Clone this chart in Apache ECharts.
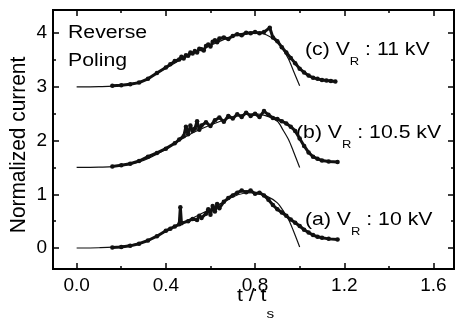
<!DOCTYPE html>
<html>
<head>
<meta charset="utf-8">
<script src="https://cdn.jsdelivr.net/npm/echarts@6/dist/echarts.min.js"></script>
<style>
  html, body { margin: 0; padding: 0; background: #fff; }
  #chart { width: 456px; height: 324px; }
</style>
</head>
<body>
<div id="chart"></div>
<script>
// axis ranges / ticks
var X_MIN = -0.106, X_MAX = 1.692
var Y_MIN = -0.391, Y_MAX = 4.432
var xMajor = [0, 0.4, 0.8, 1.2, 1.6]
var xMinor = [0.2, 0.6, 1.0, 1.4]
var yMajor = [0, 1, 2, 3, 4]
var yMinor = [0.5, 1.5, 2.5, 3.5]

// (a) V_R : 10 kV  measured
var tA = [0.16, 0.20, 0.24, 0.28, 0.32, 0.36, 0.40, 0.42, 0.44, 0.46, 0.465, 0.47, 0.50, 0.52, 0.54, 0.55, 0.56, 0.58, 0.59, 0.60, 0.61, 0.62, 0.63, 0.64, 0.66, 0.68, 0.70, 0.72, 0.74, 0.76, 0.78, 0.80, 0.82, 0.84, 0.86, 0.88, 0.90, 0.92, 0.94, 0.96, 0.98, 1.00, 1.02, 1.04, 1.06, 1.08, 1.10, 1.13, 1.17]
var vA = [0.01, 0.02, 0.04, 0.08, 0.14, 0.22, 0.32, 0.36, 0.40, 0.44, 0.76, 0.46, 0.50, 0.54, 0.52, 0.60, 0.56, 0.64, 0.72, 0.62, 0.78, 0.68, 0.82, 0.74, 0.86, 0.93, 0.98, 1.03, 1.07, 1.04, 1.07, 1.01, 1.03, 0.98, 0.90, 0.80, 0.72, 0.66, 0.60, 0.53, 0.47, 0.41, 0.34, 0.29, 0.24, 0.21, 0.19, 0.17, 0.16]
// (b) V_R : 10.5 kV  measured
var tB = [0.16, 0.20, 0.24, 0.28, 0.32, 0.36, 0.40, 0.44, 0.46, 0.48, 0.49, 0.50, 0.51, 0.52, 0.53, 0.54, 0.55, 0.56, 0.58, 0.60, 0.62, 0.64, 0.66, 0.68, 0.70, 0.72, 0.74, 0.76, 0.78, 0.80, 0.82, 0.84, 0.86, 0.88, 0.90, 0.92, 0.94, 0.96, 0.98, 1.00, 1.02, 1.04, 1.06, 1.08, 1.10, 1.13, 1.17]
var vB = [1.52, 1.54, 1.57, 1.62, 1.70, 1.77, 1.85, 1.95, 2.02, 2.08, 2.26, 2.12, 2.28, 2.18, 2.22, 2.36, 2.20, 2.28, 2.34, 2.27, 2.38, 2.43, 2.35, 2.46, 2.41, 2.49, 2.44, 2.52, 2.46, 2.50, 2.44, 2.55, 2.48, 2.42, 2.40, 2.36, 2.32, 2.26, 2.18, 2.04, 1.90, 1.78, 1.70, 1.66, 1.63, 1.61, 1.60]
// (c) V_R : 11 kV  measured
var tC = [0.16, 0.20, 0.24, 0.28, 0.32, 0.36, 0.40, 0.42, 0.44, 0.46, 0.47, 0.48, 0.49, 0.50, 0.51, 0.52, 0.53, 0.54, 0.55, 0.56, 0.57, 0.58, 0.59, 0.60, 0.61, 0.62, 0.63, 0.64, 0.66, 0.68, 0.70, 0.72, 0.74, 0.76, 0.78, 0.80, 0.82, 0.84, 0.866, 0.88, 0.90, 0.92, 0.94, 0.96, 0.98, 1.00, 1.02, 1.04, 1.06, 1.08, 1.10, 1.12, 1.14, 1.16]
var vC = [3.02, 3.03, 3.05, 3.08, 3.15, 3.26, 3.36, 3.42, 3.48, 3.51, 3.56, 3.53, 3.59, 3.58, 3.64, 3.62, 3.67, 3.64, 3.71, 3.70, 3.68, 3.76, 3.79, 3.75, 3.84, 3.87, 3.83, 3.90, 3.92, 3.89, 3.95, 3.98, 3.96, 4.01, 4.00, 4.02, 4.00, 4.02, 4.10, 3.92, 3.85, 3.74, 3.64, 3.54, 3.44, 3.34, 3.27, 3.21, 3.17, 3.15, 3.13, 3.12, 3.11, 3.10]

// model curves (thin lines)
var tFit = [0, 0.1, 0.2, 0.3, 0.4, 0.5, 0.6, 0.7, 0.75, 0.8, 0.85, 0.9, 0.925, 0.95, 0.97, 1.0]
var fitA = [0, 0.005, 0.03, 0.11, 0.31, 0.52, 0.72, 0.95, 1.02, 1.03, 0.97, 0.84, 0.70, 0.53, 0.34, 0.02]
var fitB = [1.5, 1.505, 1.53, 1.63, 1.84, 2.10, 2.29, 2.44, 2.49, 2.50, 2.46, 2.36, 2.20, 2.02, 1.82, 1.5]
var fitC = [3.0, 3.005, 3.03, 3.12, 3.35, 3.58, 3.77, 3.95, 4.00, 4.02, 3.97, 3.84, 3.70, 3.52, 3.32, 3.02]

var pairs = function (xs, ys) { return xs.map(function (x, i) { return [x, ys[i]] }) }

var font = 'Liberation Sans, Arial, sans-serif'
var ink = '#111'
var SX = 1.18 // the scan is stretched sideways

function measured (xs, ys) {
    return {
        type: 'line',
        data: pairs(xs, ys),
        symbol: 'circle',
        symbolSize: 4.5,
        itemStyle: { color: ink },
        lineStyle: { color: ink, width: 3 },
        silent: true,
        z: 3
    }
}
function model (ys) {
    return {
        type: 'line',
        data: pairs(tFit, ys),
        smooth: 0.3,
        showSymbol: false,
        lineStyle: { color: ink, width: 1.2 },
        silent: true,
        z: 2
    }
}

// one axis = line + ticks (+labels); minor ones reuse it without labels
function xAx (pos, ticks, len, labels) {
    return {
        type: 'value', min: X_MIN, max: X_MAX, position: pos,
        axisLine: { show: true, onZero: false, lineStyle: { color: '#000', width: 2 } },
        axisTick: { show: true, inside: true, length: len, customValues: ticks, lineStyle: { color: '#000', width: 1.5 } },
        axisLabel: { show: labels, customValues: ticks, margin: 7, color: '#000', fontSize: 19, fontFamily: font,
            formatter: function (v) { return v.toFixed(1) } },
        splitLine: { show: false }
    }
}
function yAx (pos, ticks, len, labels) {
    return {
        type: 'value', min: Y_MIN, max: Y_MAX, position: pos,
        axisLine: { show: true, onZero: false, lineStyle: { color: '#000', width: 2 } },
        axisTick: { show: true, inside: true, length: len, customValues: ticks, lineStyle: { color: '#000', width: 1.5 } },
        axisLabel: { show: labels, customValues: ticks, margin: 6, color: '#000', fontSize: 19, fontFamily: font },
        splitLine: { show: false }
    }
}

// text with a subscript, top-left at (x, y)
var label = function (txt, x, y, subSize, drop) {
    return {
        type: 'text', x: x, y: y, scaleX: SX, silent: true,
        style: {
            text: txt, fill: '#000', align: 'left', verticalAlign: 'top',
            rich: {
                m: { fontSize: 18, lineHeight: 18, fontFamily: font, fill: '#000', verticalAlign: 'top' },
                s: { fontSize: subSize, lineHeight: subSize, fontFamily: font, fill: '#000', verticalAlign: 'top', padding: [drop, 0, 0, 0] }
            }
        }
    }
}
var plain = function (txt, x, y) {
    return {
        type: 'text', x: x, y: y, scaleX: SX, silent: true,
        style: { text: txt, fill: '#000', fontSize: 18, fontFamily: font, align: 'left', verticalAlign: 'top' }
    }
}

var chart = echarts.init(document.getElementById('chart'), null, { renderer: 'canvas' })
chart.setOption({
    animation: false,
    backgroundColor: '#fff',
    grid: { left: 53, right: 2, top: 10, bottom: 55 },
    xAxis: [
        xAx('bottom', xMajor, 6, true),
        xAx('bottom', xMinor, 3, false),
        xAx('top', xMajor, 6, false),
        xAx('top', xMinor, 3, false)
    ],
    yAxis: [
        yAx('left', yMajor, 6, true),
        yAx('left', yMinor, 3, false),
        yAx('right', yMajor, 6, false),
        yAx('right', yMinor, 3, false)
    ],
    series: [
        model(fitA), model(fitB), model(fitC),
        measured(tA, vA), measured(tB, vB), measured(tC, vC)
    ],
    graphic: [
        plain('Reverse', 68, 24.5),
        plain('Poling', 68, 52.5),
        label('{m|(c) V}{s|R}{m| : 11 kV}', 305, 41.5, 11, 15),
        label('{m|(b) V}{s|R}{m| : 10.5 kV}', 296, 124.5, 11, 15),
        label('{m|(a) V}{s|R}{m| : 10 kV}', 305, 211.5, 11, 15),
        label('{m|t / t}{s|s}', 237, 287, 13, 21),
        {
            type: 'text', silent: true,
            x: 19, y: 145, rotation: Math.PI / 2, scaleX: 1.16, scaleY: SX,
            style: { text: 'Normalized current', fill: '#000', fontSize: 18, fontFamily: font, align: 'center', verticalAlign: 'middle' }
        }
    ]
})
</script>
</body>
</html>
